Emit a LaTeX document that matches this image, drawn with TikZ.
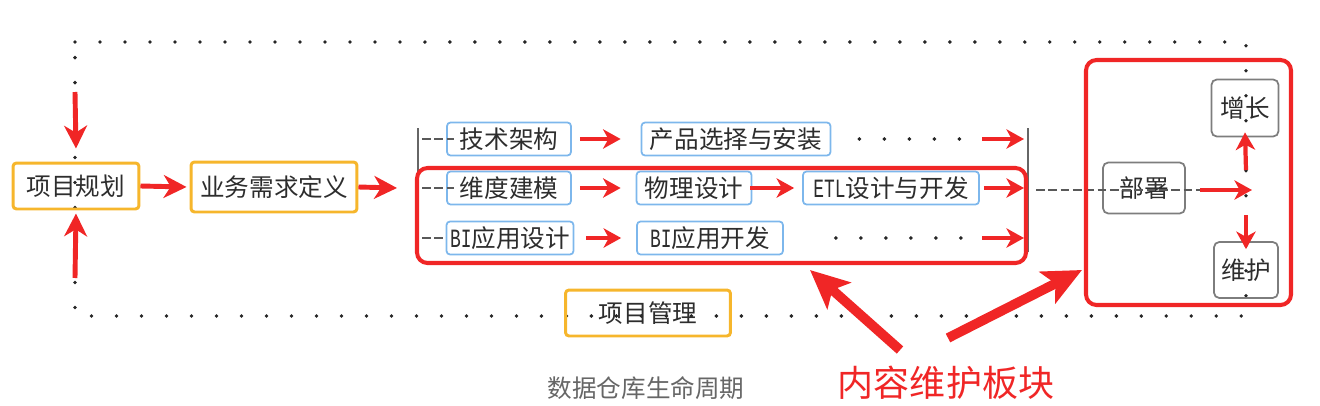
\documentclass[tikz,border=0pt]{standalone}
\usepackage{fontspec}
\setmainfont{Noto Sans CJK SC}
\newfontfamily\latinmono[FakeStretch=0.68]{Liberation Mono}
\usepackage{tikz}
\usetikzlibrary{arrows.meta, positioning}
\usepackage{xcolor}

\definecolor{markred}{RGB}{240,38,38}
\definecolor{phaseorange}{RGB}{246,182,44}
\definecolor{taskblue}{RGB}{125,183,236}
\definecolor{stagegray}{RGB}{125,125,125}
\definecolor{labelgray}{RGB}{45,45,45}
\newcommand{\lat}[1]{{\latinmono\fontsize{15}{16}\selectfont #1}}

\begin{document}
\begin{tikzpicture}[
    x=0.02cm, y=-0.02cm,
    phase/.style={
        rectangle, draw=phaseorange, line width=1.7pt, rounded corners=2pt,
        inner sep=0pt, minimum height=0.92cm,
        text=labelgray, font=\fontsize{14}{16}\selectfont
    },
    task/.style={
        rectangle, draw=taskblue, line width=1pt, rounded corners=2pt,
        inner sep=0pt, minimum height=0.66cm,
        text=labelgray, font=\fontsize{14}{16}\selectfont
    },
    stage/.style={
        rectangle, draw=stagegray, line width=1pt, rounded corners=3pt,
        inner sep=0pt, text=labelgray, font=\fontsize{14}{16}\selectfont
    },
    redarrow/.style={-{Stealth[length=10pt, width=11pt, inset=3pt]}, line width=2.4pt, draw=markred, fill=markred},
    mainarrow/.style={-{Stealth[length=13pt, width=13pt, inset=4pt]}, line width=2.8pt, draw=markred, fill=markred},
    notearrow/.style={-{Stealth[length=22pt, width=20pt, inset=5pt]}, line width=5.5pt, draw=markred, fill=markred},
    frame/.style={draw=markred, line width=2.3pt, rounded corners=6pt},
    loopdots/.style={draw=black!85, line width=2.2pt, line cap=round, dash pattern=on 0pt off 0.5cm},
    rowdash/.style={draw=black!65, line width=0.9pt, dash pattern=on 5pt off 2pt},
    bar/.style={draw=black!60, line width=1.1pt},
]
\useasboundingbox (0,0) rectangle (1320,406);

% project loop
\draw[loopdots] (75,42) -- (1246,42) -- (1246,316) -- (75,316) -- cycle;

% phases
\node[phase, minimum width=2.52cm] (plan) at (76,186) {项目规划};
\node[phase, minimum width=3.32cm, minimum height=1cm] (req) at (274,187) {业务需求定义};
\node[phase, minimum width=3.3cm] (pm) at (648,313) {项目管理};

% tasks
\node[task, minimum width=2.48cm] (arch) at (509,139) {技术架构};
\node[task, minimum width=3.78cm] (prod) at (736,139) {产品选择与安装};
\node[task, minimum width=2.48cm] (dim)  at (509,188) {维度建模};
\node[task, minimum width=2.3cm]  (phys) at (694,188) {物理设计};
\node[task, minimum width=3.52cm] (etl)  at (891,188) {\lat{ETL}设计与开发};
\node[task, minimum width=2.54cm] (bid)  at (510,238) {\lat{BI}应用设计};
\node[task, minimum width=2.92cm] (bia)  at (710,238) {\lat{BI}应用开发};

% stages
\node[stage, minimum width=1.64cm, minimum height=1.02cm] (deploy) at (1144,188) {部署};
\node[stage, minimum width=1.34cm, minimum height=1.14cm] (grow)   at (1245,108) {增长};
\node[stage, minimum width=1.28cm, minimum height=1.12cm] (maint)  at (1246,270) {维护};

% notes
\node[text=markred, font=\fontsize{20.5}{22}\selectfont] (content) at (946,383) {内容维护板块};
\node[text=black!60, font=\fontsize{14}{16}\selectfont] (title) at (646,388) {数据仓库生命周期};

% free ends
\coordinate (topin)  at (75,92);
\coordinate (botin)  at (75,278);
\coordinate (barin)  at (397,188);
\coordinate (rowA)   at (422,139);
\coordinate (rowB)   at (422,188);
\coordinate (rowC)   at (422,238);
\coordinate (dotA)   at (1009,139);
\coordinate (dotC)   at (1009,238);
\coordinate (tailA)  at (982,139);
\coordinate (tailC)  at (982,238);
\coordinate (outA)   at (1024,139);
\coordinate (outB)   at (1024,188);
\coordinate (outC)   at (1024,238);
\coordinate (barout) at (1036,190);
\coordinate (dashend) at (1214,190);
\coordinate (hubtail) at (1200,190);
\coordinate (hub)    at (1252,190);
\coordinate (upfrom) at (1246,170);
\coordinate (dnfrom) at (1246,215);
\coordinate (tailL)  at (900,350);
\coordinate (tipL)   at (810,270);
\coordinate (tailR)  at (948,338);
\coordinate (tipR)   at (1082,270);

% bars
\draw[bar] (418,128) -- (418,252);
\draw[bar] (1028,128) -- (1028,252);

% dashed branches
\draw[rowdash] (rowA) -- ([xshift=0.16cm]arch.west);
\draw[rowdash] (rowB) -- ([xshift=0.16cm]dim.west);
\draw[rowdash] (rowC) -- (bid.west);
\draw[rowdash] (barout) -- (dashend);

% row dots
\draw[loopdots] ([xshift=0.56cm]prod.east) -- (dotA);
\draw[loopdots] ([xshift=1.04cm]bia.east) -- (dotC);

% flow arrows
\draw[mainarrow] (topin) -- ([yshift=0.26cm]plan.north);
\draw[mainarrow] (botin) -- ([yshift=-0.06cm]plan.south);
\draw[mainarrow] (plan.east) -- ([xshift=-0.06cm]req.west);
\draw[mainarrow] (req.east) -- (barin);

\draw[redarrow] ([xshift=0.16cm]arch.east) -- ([xshift=-0.4cm]prod.west);
\draw[redarrow] ([xshift=0.16cm]dim.east) -- ([xshift=-0.3cm]phys.west);
\draw[redarrow] ([xshift=-0.04cm]phys.east) -- ([xshift=-0.16cm]etl.west);
\draw[redarrow] ([xshift=0.24cm]bid.east) -- ([xshift=-0.3cm]bia.west);
\draw[redarrow] (tailA) -- (outA);
\draw[redarrow] ([xshift=0.08cm]etl.east) -- (outB);
\draw[redarrow] (tailC) -- (outC);

\draw[redarrow] (hubtail) -- (hub);
\draw[redarrow] (upfrom) -- ([yshift=0.1cm]grow.south);
\draw[redarrow] (dnfrom) -- ([yshift=-0.16cm]maint.north);

% frames
\draw[frame] (417,168) rectangle (1026,263);
\draw[frame] (1086,60) rectangle (1291,305);

% note arrows
\draw[notearrow] (tailL) -- (tipL);
\draw[notearrow] (tailR) -- (tipR);

\end{tikzpicture}
\end{document}
